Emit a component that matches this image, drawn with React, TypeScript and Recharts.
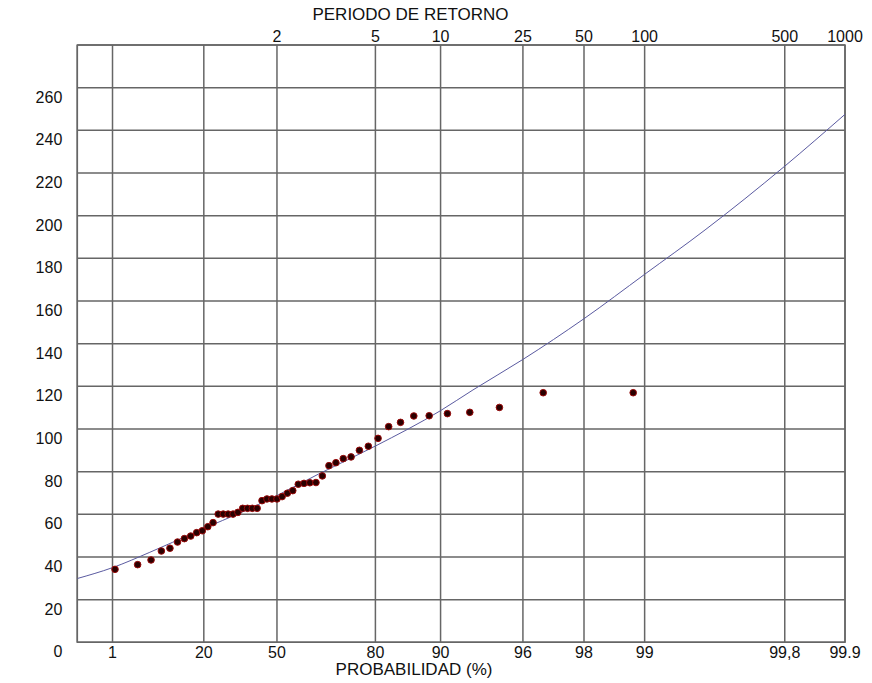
import React from 'react';
import {
  ComposedChart,
  Line,
  Scatter,
  XAxis,
  YAxis,
  CartesianGrid,
  ReferenceArea,
} from 'recharts';

// Probability axis (Gumbel paper) ticks
const probTicks = [1, 20, 50, 80, 90, 96, 98, 99, 99.8, 99.9];
const probTickLabels = ['1', '20', '50', '80', '90', '96', '98', '99', '99,8', '99.9'];

// Return period ticks (top axis)
const returnPeriods = [2, 5, 10, 25, 50, 100, 500, 1000];
const returnPeriodLabels = ['2', '5', '10', '25', '50', '100', '500', '1000'];

// Value axis ticks
const yTicks = [0, 20, 40, 60, 80, 100, 120, 140, 160, 180, 200, 220, 240, 260, 280];
const yTickLabels = ['0', '20', '40', '60', '80', '100', '120', '140', '160', '180', '200', '220', '240', '260', ''];

// Observed points: non-exceedance probability (%) and value
const pointProb = [
  1.14, 3.18, 5.21, 7.25, 9.28, 11.32, 13.36, 15.39, 17.43, 19.46,
  21.5, 23.53, 25.57, 27.61, 29.64, 31.68, 33.71, 35.75, 37.79, 39.82,
  41.86, 43.89, 45.93, 47.96, 50.0, 52.04, 54.07, 56.11, 58.14, 60.18,
  62.21, 64.25, 66.29, 68.32, 70.36, 72.39, 74.43, 76.47, 78.5, 80.54,
  82.57, 84.61, 86.64, 88.68, 90.72, 92.75, 94.79, 96.82, 98.86,
];
const pointValue = [
  34.2, 36.4, 38.6, 42.8, 44.1, 47.0, 48.6, 49.8, 51.4, 52.3,
  54.2, 56.1, 60.1, 60.1, 60.1, 60.1, 60.9, 62.8, 62.8, 62.8,
  62.8, 66.4, 67.2, 67.2, 67.2, 68.3, 69.9, 71.1, 74.1, 74.5,
  74.8, 74.9, 78.0, 82.8, 84.2, 86.1, 86.9, 90.0, 91.9, 95.6,
  101.1, 103.1, 106.1, 106.2, 107.2, 107.8, 110.1, 117.0, 117.0,
];

// Fitted distribution curve
const curveProb = [0.1, 1, 5, 10, 20, 35, 50, 65, 80, 90, 93, 96, 98, 99, 99.5, 99.8, 99.9];
const curveValue = [29.9, 35.0, 42.2, 46.9, 53.4, 60.8, 68.8, 78.8, 92.0, 108.6, 118.3, 132.6, 151.7, 172.5, 193.3, 223.2, 247.5];

// Gumbel reduced variate for a probability in %
const gumbel = (p: number) => -Math.log(-Math.log(p / 100));

const xMin = gumbel(0.1);
const xMax = gumbel(99.9);

const scatterData = pointProb.map((p, i) => ({ x: gumbel(p), y: pointValue[i] }));
const curveData = curveProb.map((p, i) => ({ x: gumbel(p), y: curveValue[i] }));
const bottomTicks = probTicks.map(gumbel);
const topTicks = returnPeriods.map((t) => gumbel(100 * (1 - 1 / t)));

const FONT = '"Liberation Sans", Arial, sans-serif';
const GRID = '#666666';

const BottomTick = (props: any) => {
  const { x, y, index } = props;
  return (
    <text x={x} y={y + 15.5} textAnchor="middle" fontFamily={FONT} fontSize={16} fill="#111">
      {probTickLabels[index]}
    </text>
  );
};

const TopTick = (props: any) => {
  const { x, y, index } = props;
  return (
    <text x={x} y={y - 3} textAnchor="middle" fontFamily={FONT} fontSize={16} fill="#111">
      {returnPeriodLabels[index]}
    </text>
  );
};

const LeftTick = (props: any) => {
  const { x, y, index } = props;
  return (
    <text x={x} y={y + 15} textAnchor="end" fontFamily={FONT} fontSize={16} fill="#111">
      {yTickLabels[index]}
    </text>
  );
};

const Dot = (props: any) => {
  const { cx, cy } = props;
  return <circle cx={cx} cy={cy} r={3.3} fill="#2a0000" stroke="#9a0a0a" strokeWidth={1} />;
};

export default function App() {
  return (
    <div style={{ position: 'absolute', left: 0, top: 0, width: 872, height: 683, background: '#fff' }}>
      <ComposedChart
        width={872}
        height={683}
        margin={{ top: 15, right: 27, bottom: 10.7, left: 0 }}
      >
        <CartesianGrid stroke={GRID} strokeWidth={1.5} />
        <XAxis
          type="number"
          dataKey="x"
          domain={[xMin, xMax]}
          ticks={bottomTicks}
          interval={0}
          allowDataOverflow
          height={30}
          tickSize={0}
          tickMargin={0}
          axisLine={false}
          tickLine={false}
          tick={<BottomTick />}
        />
        <XAxis
          xAxisId="top"
          orientation="top"
          type="number"
          dataKey="x"
          domain={[xMin, xMax]}
          ticks={topTicks}
          interval={0}
          allowDataOverflow
          height={30}
          tickSize={0}
          tickMargin={0}
          axisLine={false}
          tickLine={false}
          tick={<TopTick />}
        />
        <YAxis
          type="number"
          domain={[0, 280]}
          ticks={yTicks}
          interval={0}
          allowDataOverflow
          width={77.3}
          tickSize={0}
          tickMargin={15}
          axisLine={false}
          tickLine={false}
          tick={<LeftTick />}
        />
        <ReferenceArea
          x1={xMin}
          x2={xMax}
          y1={0}
          y2={280}
          fill="none"
          fillOpacity={0}
          stroke={GRID}
          strokeWidth={1.5}
        />
        <Line
          data={curveData}
          dataKey="y"
          type="monotone"
          stroke="#5a5aa0"
          strokeWidth={1}
          dot={false}
          activeDot={false}
          isAnimationActive={false}
        />
        <Scatter
          data={scatterData}
          dataKey="y"
          shape={<Dot />}
          isAnimationActive={false}
        />
      </ComposedChart>
      <div
        style={{
          position: 'absolute',
          left: 0,
          width: 821,
          top: 5,
          textAlign: 'center',
          fontFamily: FONT,
          fontSize: 17,
          lineHeight: '20px',
          color: '#111',
        }}
      >
        PERIODO DE RETORNO
      </div>
      <div
        style={{
          position: 'absolute',
          left: 0,
          width: 828,
          top: 660,
          textAlign: 'center',
          fontFamily: FONT,
          fontSize: 17,
          lineHeight: '20px',
          color: '#111',
        }}
      >
        PROBABILIDAD (%)
      </div>
    </div>
  );
}
